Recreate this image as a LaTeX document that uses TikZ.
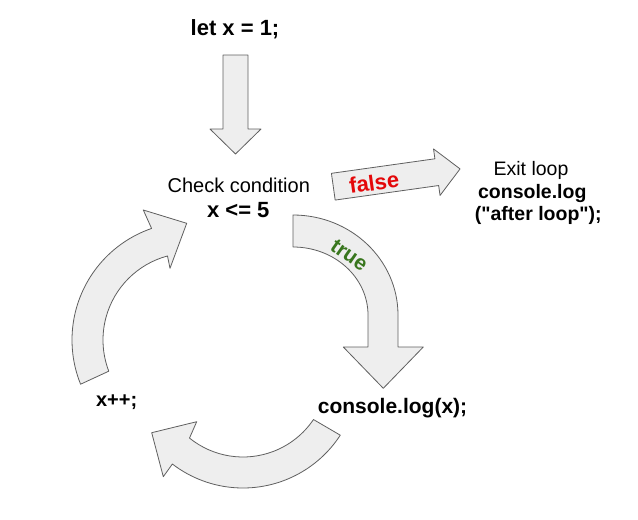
\documentclass[tikz,border=0pt]{standalone}
\usepackage{fontspec}
\setmainfont{Liberation Sans}[Ligatures=TeXOff]
\usetikzlibrary{calc}
\definecolor{arrowfill}{RGB}{238,238,238}
\definecolor{arrowline}{RGB}{95,95,95}
\definecolor{falsered}{RGB}{228,8,10}
\definecolor{truegreen}{RGB}{56,118,29}
\begin{document}
\begin{tikzpicture}[x=1pt,y=1pt,
  blockarrow/.style={fill=arrowfill,draw=arrowline,line width=0.8pt,line join=round},
  lbl/.style={inner sep=0pt,anchor=base},
  codetxt/.style={lbl,font=\bfseries\fontsize{#1}{#1}\selectfont},
  normtxt/.style={lbl,font=\fontsize{#1}{#1}\selectfont},
  edgetxt/.style={inner sep=0pt,anchor=center,font=\bfseries\fontsize{#1}{#1}\selectfont},
]
\useasboundingbox (0,0) rectangle (638,-520);

% centres of the curved arrows
\coordinate (cL) at (190,-340);
\coordinate (cB) at (243,-372);

% straight arrow: init -> check
\draw[blockarrow] (223,-55) -- (248,-55) -- (248,-129) -- (261,-129)
  -- (235.5,-154) -- (210,-129) -- (223,-129) -- cycle;

% false arrow: check -> exit
\begin{scope}[shift={(333.3,-186.7)},rotate=8]
\draw[blockarrow] (0,13.5) -- (104.5,13.5) -- (104.5,23.5) -- (128,0)
  -- (104.5,-23.5) -- (104.5,-13.5) -- (0,-13.5) -- cycle;
\end{scope}

% true arrow: check -> body
\draw[blockarrow] (293,-215) arc[start angle=90,end angle=0,x radius=105,y radius=100]
  -- (398,-347) -- (423.3,-347) -- (383.3,-388.3) -- (343.3,-347) -- (368,-347)
  -- (368,-315) arc[start angle=0,end angle=90,x radius=75,y radius=68] -- cycle;

% bottom arrow: body -> incr
\draw[blockarrow] ($(cB)+(-33:116)$) arc[start angle=-33,end angle=-127.5,radius=116]
  -- (163.3,-476.7) -- (151.7,-432.7) -- (196.7,-421.7) -- ($(cB)+(-129:85)$)
  arc[start angle=-129,end angle=-34,radius=85] -- cycle;

% left arrow: incr -> check
\draw[blockarrow] ($(cL)+(202:118)$) arc[start angle=202,end angle=109,radius=118]
  -- (143.3,-210) -- (186.7,-223.3) -- (170,-268.3) -- ($(cL)+(105:87)$)
  arc[start angle=105,end angle=201,radius=87] -- cycle;

% texts
\node[codetxt=22] (init) at (235,-35) {let x = 1;};
\node[normtxt=20] (check) at (238.8,-192.3) {Check condition};
\node[codetxt=22] (cond) at (238.3,-217.3) {x <= 5};
\node[normtxt=19.5] (exit) at (531,-175) {Exit loop};
\node[codetxt=19.5] (exitlog) at (532.3,-198.3) {console.log};
\node[codetxt=19.5] (exitarg) at (538.3,-220) {("after loop");};
\node[codetxt=21] (body) at (392.5,-413) {console.log(x);};
\node[codetxt=20] (incr) at (116.7,-406) {x++;};
\node[edgetxt=22,text=falsered,rotate=8] (falselbl) at (374,-182.7) {false};
\node[edgetxt=21,text=truegreen,rotate=-35] (truelbl) at (349.2,-255) {true};
\end{tikzpicture}
\end{document}
